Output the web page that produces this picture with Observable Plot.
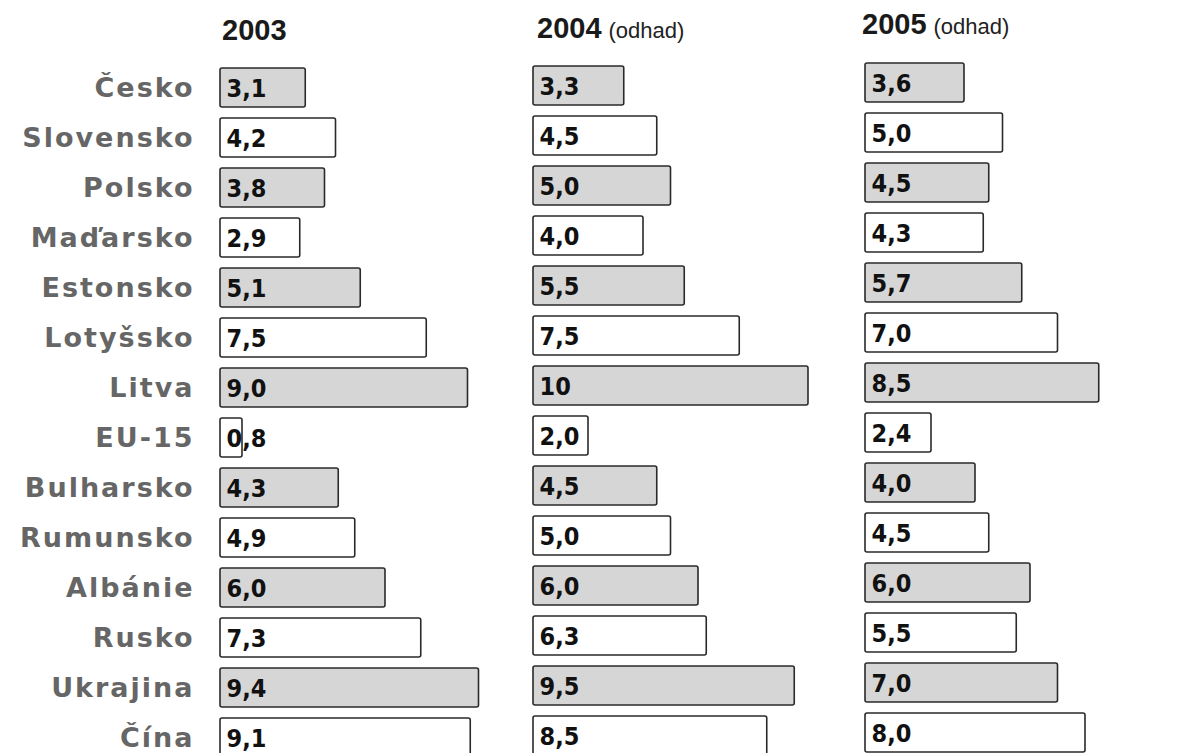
<!DOCTYPE html>
<html>
<head>
<meta charset="utf-8">
<script src="https://cdn.jsdelivr.net/npm/d3@7"></script>
<script src="https://cdn.jsdelivr.net/npm/@observablehq/plot@0.6"></script>
<style>
  html, body { margin: 0; padding: 0; background: #fff; }
  #wrap { position: relative; width: 1192px; height: 753px; overflow: hidden; background: #fff; }
  .panel { position: absolute; top: 0; }
  .hdr { position: absolute; font-family: "Liberation Sans", Arial, sans-serif; font-weight: bold; color: #1a1a1a; white-space: nowrap; }
  .hdr .yr { font-size: 29px; }
  .hdr .od { font-family: "Liberation Sans Narrow", "Liberation Sans", Arial, sans-serif; font-stretch: condensed; font-size: 22px; font-weight: normal; margin-left: 7px; color: #222; }
  .ylab text { letter-spacing: 2px; }
</style>
</head>
<body>
<div id="wrap"></div>
<script>
// ---- data ----
const countries = ["Česko","Slovensko","Polsko","Maďarsko","Estonsko","Lotyšsko","Litva","EU-15","Bulharsko","Rumunsko","Albánie","Rusko","Ukrajina","Čína"];
const v2003 = [3.1, 4.2, 3.8, 2.9, 5.1, 7.5, 9.0, 0.8, 4.3, 4.9, 6.0, 7.3, 9.4, 9.1];
const v2004 = [3.3, 4.5, 5.0, 4.0, 5.5, 7.5, 10, 2.0, 4.5, 5.0, 6.0, 6.3, 9.5, 8.5];
const v2005 = [3.6, 5.0, 4.5, 4.3, 5.7, 7.0, 8.5, 2.4, 4.0, 4.5, 6.0, 5.5, 7.0, 8.0];
const years = ["2003", "2004", "2005"];
const yearNotes = ["", "(odhad)", "(odhad)"];

const fmt = v => v >= 10 ? String(v) : v.toFixed(1).replace(".", ",");
const shade = countries.map((c, i) => i % 2 === 0 ? "#d6d6d6" : "#ffffff");

const wrap = document.getElementById("wrap");

// panel layout (pixels)
const panels = [
  {values: v2003, left: 0,   width: 520, x0: 220, top: 59, axis: true,  hdrLeft: 222, hdrTop: 14},
  {values: v2004, left: 520, width: 330, x0: 13,  top: 57, axis: false, hdrLeft: 537, hdrTop: 12},
  {values: v2005, left: 850, width: 342, x0: 15,  top: 54, axis: false, hdrLeft: 862, hdrTop: 8}
];
const pxPerUnit = 27.5;
const step = 50.5;

panels.forEach((p, k) => {
  const data = countries.map((c, i) => ({country: c, value: p.values[i], fill: shade[i]}));
  const marks = [
    Plot.barX(data, {
      x1: 0, x2: "value", y: "country",
      fill: "fill", stroke: "#2a2a2a", strokeWidth: 1.6, rx: 2
    }),
    Plot.text(data, {
      x: 0, y: "country", text: d => fmt(d.value),
      textAnchor: "start", dx: 6, dy: 1,
      fontSize: 25, fontWeight: "bold", fill: "#111",
      fontFamily: "DejaVu Sans Condensed, DejaVu Sans, Arial, sans-serif"
    })
  ];
  if (p.axis) {
    marks.push(Plot.axisY({
      tickSize: 0, tickPadding: 26, label: null,
      fontSize: 27, fontWeight: "bold", fill: "#666",
      fontFamily: "DejaVu Sans, Verdana, sans-serif",
      className: "ylab"
    }));
  }
  const chart = Plot.plot({
    width: p.width,
    height: 780,
    marginLeft: p.x0,
    marginRight: 0,
    marginTop: 0,
    marginBottom: 0,
    style: {background: "transparent", overflow: "visible"},
    x: {domain: [0, 10], range: [p.x0, p.x0 + 10 * pxPerUnit], axis: null},
    y: {domain: countries, range: [p.top, p.top + 14 * step], paddingInner: 0.228, paddingOuter: 0.114, axis: null},
    color: {type: "identity"},
    marks
  });
  chart.classList.add("panel");
  chart.style.left = p.left + "px";
  wrap.appendChild(chart);

  const h = document.createElement("div");
  h.className = "hdr";
  h.style.left = p.hdrLeft + "px";
  h.style.top = p.hdrTop + "px";
  const y = document.createElement("span");
  y.className = "yr";
  y.textContent = years[k];
  h.appendChild(y);
  if (yearNotes[k]) {
    const o = document.createElement("span");
    o.className = "od";
    o.textContent = yearNotes[k];
    h.appendChild(o);
  }
  wrap.appendChild(h);
});
</script>
</body>
</html>
